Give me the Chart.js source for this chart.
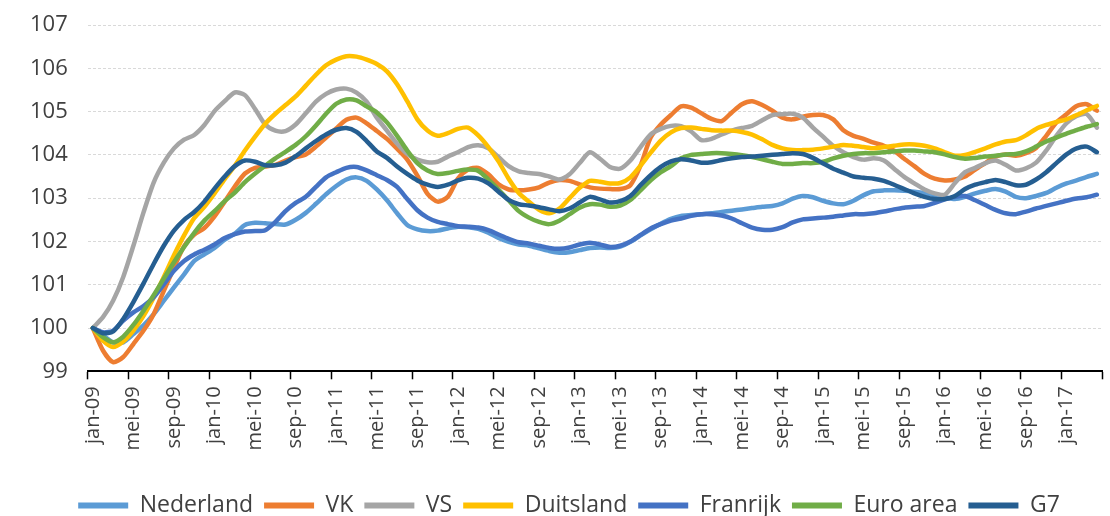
<!DOCTYPE html>
<html>
<head>
<meta charset="utf-8">
<script src="https://cdn.jsdelivr.net/npm/chart.js@4.4.1/dist/chart.umd.min.js"></script>
<style>
  body { margin: 0; background: #fff; }
  #wrap { width: 1110px; height: 516px; }
</style>
</head>
<body>
<div id="wrap"><canvas id="indexChart"></canvas></div>
<script>
// maandlabels, jan-09 t/m apr-17
const maanden = ['jan', 'feb', 'mrt', 'apr', 'mei', 'jun', 'jul', 'aug', 'sep', 'okt', 'nov', 'dec']
const jaren = ['09', '10', '11', '12', '13', '14', '15', '16', '17']
const yTicks = [99, 100, 101, 102, 103, 104, 105, 106, 107]

const nederland = [100, 99.83, 99.67, 99.67, 99.86, 100.06, 100.32, 100.63, 100.94, 101.24, 101.55, 101.7, 101.85, 102.04,
  102.18, 102.38, 102.43, 102.42, 102.4, 102.39, 102.5, 102.66, 102.87, 103.09, 103.28, 103.43, 103.48, 103.4,
  103.2, 102.95, 102.65, 102.38, 102.28, 102.24, 102.25, 102.3, 102.34, 102.33, 102.29, 102.2, 102.08, 101.99, 101.93,
  101.9, 101.84, 101.78, 101.74, 101.75, 101.8, 101.85, 101.86, 101.85, 101.88, 101.99, 102.14, 102.28, 102.41, 102.52,
  102.59, 102.61, 102.63, 102.65, 102.68, 102.71, 102.74, 102.77, 102.8, 102.82, 102.88, 102.99, 103.05, 103.02,
  102.94, 102.88, 102.86, 102.94, 103.07, 103.16, 103.18, 103.18, 103.17, 103.15, 103.12, 103.07, 103.02, 102.98,
  103.03, 103.11, 103.17, 103.21, 103.15, 103.03, 103.0, 103.05, 103.12, 103.24, 103.34, 103.41, 103.49, 103.56]

const vk = [100, 99.48, 99.21, 99.33, 99.63, 99.94, 100.32, 100.86, 101.39, 101.89, 102.16, 102.31, 102.58, 102.92,
  103.27, 103.57, 103.7, 103.73, 103.77, 103.87, 103.95, 104.01, 104.19, 104.4, 104.61, 104.81, 104.86, 104.73, 104.55,
  104.37, 104.14, 103.89, 103.52, 103.1, 102.92, 103.03, 103.45, 103.66, 103.7, 103.55, 103.32, 103.2, 103.18,
  103.2, 103.25, 103.36, 103.42, 103.4, 103.32, 103.25, 103.22, 103.21, 103.21, 103.3, 103.75, 104.4, 104.7, 104.92,
  105.12, 105.09, 104.96, 104.83, 104.78, 104.98, 105.17, 105.24, 105.15, 105.02, 104.86, 104.82, 104.88, 104.92,
  104.92, 104.82, 104.57, 104.44, 104.37, 104.28, 104.21, 104.1, 103.91, 103.74, 103.56, 103.45, 103.41, 103.43,
  103.5, 103.66, 103.81, 103.96, 104.01, 103.98, 104.04, 104.16, 104.44, 104.75, 104.94, 105.13, 105.17, 105.02]

const vs = [100, 100.25, 100.63, 101.18, 101.9, 102.67, 103.36, 103.82, 104.15, 104.35, 104.46, 104.69, 105.01, 105.24,
  105.44, 105.38, 105.06, 104.7, 104.56, 104.55, 104.7, 104.96, 105.23, 105.41, 105.51, 105.53, 105.44, 105.23, 104.86,
  104.56, 104.26, 104.02, 103.89, 103.83, 103.84, 103.96, 104.06, 104.18, 104.22, 104.15, 103.95, 103.74, 103.62,
  103.58, 103.56, 103.5, 103.43, 103.55, 103.81, 104.06, 103.91, 103.72, 103.68, 103.87, 104.18, 104.47, 104.6, 104.67,
  104.66, 104.54, 104.34, 104.37, 104.47, 104.56, 104.62, 104.67, 104.8, 104.92, 104.94, 104.95, 104.86, 104.63,
  104.42, 104.21, 104.06, 103.95, 103.89, 103.92, 103.87, 103.68, 103.49, 103.34, 103.2, 103.11, 103.08, 103.35,
  103.6, 103.7, 103.81, 103.87, 103.77, 103.64, 103.69, 103.82, 104.1, 104.44, 104.73, 104.9, 104.94, 104.63]

const duitsland = [100, 99.71, 99.56, 99.69, 99.94, 100.28, 100.7, 101.18, 101.68, 102.14, 102.54, 102.8, 103.11, 103.44,
  103.75, 104.1, 104.42, 104.72, 104.95, 105.15, 105.35, 105.6, 105.85, 106.07, 106.2, 106.28, 106.27, 106.2, 106.1,
  105.93, 105.63, 105.24, 104.82, 104.56, 104.44, 104.5, 104.6, 104.63, 104.45, 104.18, 103.85, 103.45, 103.12,
  102.92, 102.73, 102.65, 102.76, 103.0, 103.24, 103.4, 103.38, 103.34, 103.35, 103.48, 103.75, 104.05, 104.33, 104.52,
  104.62, 104.63, 104.6, 104.57, 104.56, 104.56, 104.53, 104.47, 104.36, 104.23, 104.15, 104.11, 104.11, 104.12,
  104.15, 104.19, 104.23, 104.21, 104.18, 104.15, 104.18, 104.21, 104.24, 104.24, 104.21, 104.15, 104.06, 103.98,
  104.0, 104.07, 104.15, 104.24, 104.31, 104.34, 104.45, 104.6, 104.69, 104.76, 104.82, 104.92, 105.03, 105.13]

const frankrijk = [100, 99.9, 99.94, 100.17, 100.36, 100.51, 100.71, 101.01, 101.32, 101.55, 101.7, 101.81, 101.93, 102.08,
  102.17, 102.23, 102.24, 102.26, 102.45, 102.7, 102.89, 103.03, 103.26, 103.48, 103.6, 103.7, 103.72, 103.64, 103.53,
  103.42, 103.26, 102.98, 102.72, 102.55, 102.45, 102.4, 102.35, 102.34, 102.32, 102.26, 102.16, 102.06, 101.98,
  101.95, 101.9, 101.85, 101.83, 101.86, 101.93, 101.97, 101.93, 101.87, 101.9, 102.0, 102.15, 102.3, 102.4, 102.48,
  102.53, 102.59, 102.63, 102.63, 102.6, 102.53, 102.42, 102.32, 102.27, 102.27, 102.33, 102.44, 102.51, 102.53,
  102.55, 102.57, 102.6, 102.63, 102.63, 102.65, 102.69, 102.74, 102.78, 102.8, 102.82, 102.89, 102.97, 103.03,
  103.05, 102.95, 102.84, 102.73, 102.65, 102.63, 102.69, 102.76, 102.82, 102.88, 102.94, 102.99, 103.02, 103.08]

const euroArea = [100, 99.79, 99.67, 99.8, 100.07, 100.4, 100.76, 101.14, 101.52, 101.87, 102.2, 102.48, 102.7, 102.93,
  103.13, 103.37, 103.57, 103.75, 103.92, 104.07, 104.23, 104.43, 104.68, 104.95, 105.18, 105.28, 105.26, 105.12, 104.98,
  104.75, 104.44, 104.1, 103.81, 103.64, 103.56, 103.58, 103.63, 103.66, 103.63, 103.43, 103.2, 102.95, 102.7,
  102.55, 102.45, 102.4, 102.48, 102.63, 102.78, 102.86, 102.85, 102.8, 102.83, 102.96, 103.18, 103.41, 103.6, 103.74,
  103.92, 104.0, 104.02, 104.04, 104.04, 104.02, 103.99, 103.95, 103.9, 103.84, 103.79, 103.79, 103.81, 103.81,
  103.84, 103.92, 103.98, 104.02, 104.04, 104.04, 104.06, 104.08, 104.1, 104.1, 104.08, 104.06, 104.01, 103.95,
  103.91, 103.93, 103.96, 103.98, 104.01, 104.02, 104.08, 104.19, 104.31, 104.4, 104.49, 104.57, 104.65, 104.71]

const g7 = [100, 99.88, 99.92, 100.21, 100.6, 101.03, 101.48, 101.9, 102.25, 102.5, 102.68, 102.92, 103.22, 103.5,
  103.74, 103.87, 103.84, 103.76, 103.76, 103.82, 103.97, 104.15, 104.32, 104.47, 104.58, 104.62, 104.53, 104.32, 104.08,
  103.93, 103.73, 103.56, 103.41, 103.31, 103.26, 103.31, 103.41, 103.47, 103.45, 103.34, 103.15, 102.96, 102.86,
  102.83, 102.79, 102.74, 102.7, 102.76, 102.9, 103.03, 102.97, 102.9, 102.93, 103.05, 103.3, 103.53, 103.72, 103.85,
  103.9, 103.87, 103.82, 103.83, 103.88, 103.92, 103.95, 103.96, 103.98, 104.0, 104.02, 104.04, 104.02, 103.93,
  103.8, 103.68, 103.59, 103.5, 103.47, 103.45, 103.4, 103.31, 103.21, 103.11, 103.03, 102.98, 102.98, 103.05,
  103.21, 103.31, 103.37, 103.42, 103.37, 103.3, 103.31, 103.43, 103.6, 103.81, 104.01, 104.15, 104.19, 104.06]

var labels = []
for (let j = 0; j < jaren.length; j++) {
  for (let m = 0; m < maanden.length; m++) labels.push(maanden[m] + '-' + jaren[j])
}
labels = labels.slice(0, nederland.length)

var tekstKleur = '#404040'
Chart.defaults.font.family = "'Open Sans', sans-serif"
Chart.defaults.color = tekstKleur

// later series liggen bovenop, zoals in Excel
function serie(naam, data, kleur, volgorde) {
  return {
    label: naam,
    data: data,
    borderColor: kleur,
    backgroundColor: kleur,
    borderWidth: 4.5,
    borderCapStyle: 'round',
    borderJoinStyle: 'round',
    pointRadius: 0,
    tension: 0.25,
    order: volgorde
  }
}

var datasets = [
  serie('Nederland', nederland, '#5B9BD5', 7),
  serie('VK', vk, '#ED7D31', 6),
  serie('VS', vs, '#A5A5A5', 5),
  serie('Duitsland', duitsland, '#FFC000', 4),
  serie('Franrijk', frankrijk, '#4472C4', 3),
  serie('Euro area', euroArea, '#70AD47', 2),
  serie('G7', g7, '#255E91', 1)
]

function legendItems(chart) {
  let items = Chart.defaults.plugins.legend.labels.generateLabels(chart)
  items.forEach((it) => { it.lineWidth = 6 })
  return items
}

// legenda iets naar rechts, zoals in het origineel
const schuifLegenda = {
  id: 'schuifLegenda',
  afterLayout(chart) { if (chart.legend) chart.legend.left += 26 }
}

const ctx = document.getElementById('indexChart').getContext('2d')
var chart = new Chart(ctx, {
  type: 'line',
  data: { labels: labels, datasets: datasets },
  plugins: [schuifLegenda],
  options: {
    responsive: true,
    maintainAspectRatio: false,
    animation: false,
    layout: { padding: { left: 10, right: 8, top: 25, bottom: -11 } },
    plugins: {
      tooltip: { enabled: false },
      legend: {
        position: 'bottom',
        labels: {
          usePointStyle: true,
          pointStyle: 'line',
          pointStyleWidth: 50,
          padding: 11,
          color: tekstKleur,
          font: { size: 23 },
          generateLabels: legendItems,
          sort: (a, b) => a.datasetIndex - b.datasetIndex
        }
      }
    },
    scales: {
      x: {
        offset: true,
        afterFit: (axis) => { axis.paddingLeft = 0; axis.paddingRight = 0 },
        grid: {
          offset: true,
          drawOnChartArea: false,
          drawTicks: true,
          tickLength: 8,
          tickWidth: 1.5,
          tickColor: (c) => (c.index === undefined || c.index % 4 === 0) ? '#000' : 'rgba(0,0,0,0)'
        },
        border: { display: true, color: '#000', width: 2 },
        ticks: {
          autoSkip: false,
          minRotation: 90,
          maxRotation: 90,
          padding: 7,
          color: tekstKleur,
          font: { size: 20 },
          callback: function (val, i) { return i % 4 === 0 ? this.getLabelForValue(val) : '' }
        },
        title: { display: true, text: ' ', padding: { top: 0, bottom: 4 }, font: { size: 18 } }
      },
      y: {
        min: yTicks[0],
        max: yTicks[yTicks.length - 1],
        afterBuildTicks: (axis) => { axis.ticks = yTicks.map(v => ({ value: v })) },
        afterFit: (axis) => { axis.paddingTop = 0; axis.paddingBottom = 0 },
        grid: { color: '#d9d9d9', lineWidth: 1, drawTicks: false },
        border: { display: false, dash: [3, 2] },
        ticks: { padding: 20, color: tekstKleur, font: { size: 22 } }
      }
    }
  }
})
</script>
</body>
</html>
